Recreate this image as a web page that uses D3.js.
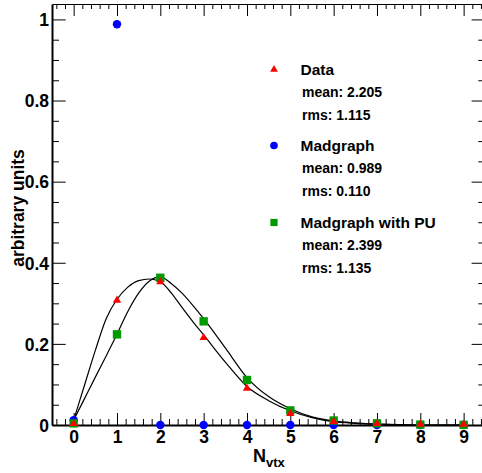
<!DOCTYPE html>
<html>
<head>
<meta charset="utf-8">
<script src="https://cdn.jsdelivr.net/npm/d3@7"></script>
<style>
  html, body { margin: 0; padding: 0; background: #fff; }
  svg { display: block; }
  text { font-family: "Liberation Sans", Arial, sans-serif; font-weight: bold; }
</style>
</head>
<body>
<svg id="chart" width="482" height="473"></svg>
<script>
// ---- data ----
const nvtx = [0, 1, 2, 3, 4, 5, 6, 7, 8, 9];
const dataValues      = [0.002, 0.306, 0.352, 0.214, 0.089, 0.027, 0.007, 0.002, 0.0005, 0.0002];
const madgraphValues  = [0.012, 0.988, 0, 0, 0, 0, 0, 0, 0, 0];
const madgraphPUValues= [0.004, 0.2235, 0.363, 0.2555, 0.111, 0.036, 0.011, 0.004, 0.001, 0.0005];

// fitted curves
const fitX       = [0, 0.25, 0.5, 0.75, 1, 1.25, 1.5, 1.75, 2, 2.25, 2.5, 2.75, 3, 3.5, 4, 4.5, 5, 5.5, 6, 6.5, 7, 7.5, 8, 9];
const fitData    = [0.012, 0.098, 0.184, 0.262, 0.31, 0.34, 0.356, 0.36, 0.353, 0.326, 0.29, 0.255, 0.222, 0.155, 0.095, 0.060, 0.035, 0.018, 0.008, 0.004, 0.002, 0.001, 0, 0];
const fitPU      = [0.012, 0.065, 0.118, 0.17, 0.224, 0.28, 0.325, 0.355, 0.365, 0.349, 0.325, 0.295, 0.262, 0.19, 0.117, 0.07, 0.04, 0.02, 0.01, 0.005, 0.002, 0.001, 0, 0];

const xTickValues = [0, 1, 2, 3, 4, 5, 6, 7, 8, 9];
const yTickValues = [0, 0.2, 0.4, 0.6, 0.8, 1];

const legendNames = ["Data", "Madgraph", "Madgraph with PU"];
const legendMeans = ["mean: 2.205", "mean: 0.989", "mean: 2.399"];
const legendRms   = ["rms: 1.115", "rms: 0.110", "rms: 1.135"];

// ---- drawing ----
const svg = d3.select("#chart");
svg.append("rect").attr("width", 482).attr("height", 473).attr("fill", "#fff");

const x = d3.scaleLinear().domain([-0.5, 9.5]).range([52, 485.3]);
const y = d3.scaleLinear().domain([0, 1.038]).range([425, 4]);

const colors = { data: "#ff0000", mg: "#0000ff", pu: "#009900" };

// minor ticks
const xMinor = d3.range(-0.4, 9.5, 0.2).map(v => +v.toFixed(1)).filter(v => Math.abs(v - Math.round(v)) > 1e-6);
const yMinor = d3.range(0.05, 1.04, 0.05).map(v => +v.toFixed(2)).filter(v => Math.abs(v / 0.2 - Math.round(v / 0.2)) > 1e-6);

function styleAxis(g, width) {
  g.select(".domain").attr("stroke", "#000").attr("stroke-width", width);
  g.selectAll(".tick line").attr("stroke", "#000").attr("stroke-width", 1);
}

// bottom minor
svg.append("g").attr("transform", "translate(0,425)")
  .call(d3.axisBottom(x).tickValues(xMinor).tickSize(-6).tickSizeOuter(0).tickFormat(""))
  .call(g => g.select(".domain").remove())
  .call(g => g.selectAll(".tick line").attr("stroke", "#000"));
// bottom major
const gxb = svg.append("g").attr("transform", "translate(0,425)")
  .call(d3.axisBottom(x).tickValues(xTickValues).tickSize(-12).tickSizeOuter(0).tickPadding(6).tickFormat(d3.format("d")));
styleAxis(gxb, 2);
gxb.selectAll(".tick text").attr("fill", "#000").style("font-size", "17.5px").style("font-family", "'Liberation Sans', Arial, sans-serif").style("font-weight", "bold");

// top
svg.append("g").attr("transform", "translate(0,4)")
  .call(d3.axisTop(x).tickValues(xMinor).tickSize(-5).tickSizeOuter(0).tickFormat(""))
  .call(g => g.select(".domain").remove())
  .call(g => g.selectAll(".tick line").attr("stroke", "#000"));
const gxt = svg.append("g").attr("transform", "translate(0,4)")
  .call(d3.axisTop(x).tickValues(xTickValues).tickSize(-12).tickSizeOuter(0).tickFormat(""));
styleAxis(gxt, 1.2);

// left
svg.append("g").attr("transform", "translate(52,0)")
  .call(d3.axisLeft(y).tickValues(yMinor).tickSize(-7).tickSizeOuter(0).tickFormat(""))
  .call(g => g.select(".domain").remove())
  .call(g => g.selectAll(".tick line").attr("stroke", "#000"));
const gyl = svg.append("g").attr("transform", "translate(52,0)")
  .call(d3.axisLeft(y).tickValues(yTickValues).tickSize(-13.7).tickSizeOuter(0).tickPadding(3).tickFormat(d3.format(".1~f")));
styleAxis(gyl, 2);
gyl.selectAll(".tick text").attr("fill", "#000").attr("dy", "0.36em").style("font-size", "17.5px").style("font-family", "'Liberation Sans', Arial, sans-serif").style("font-weight", "bold");

// right (mostly off-canvas)
svg.append("g").attr("transform", "translate(485.3,0)")
  .call(d3.axisRight(y).tickValues(yMinor).tickSize(-7).tickSizeOuter(0).tickFormat(""))
  .call(g => g.select(".domain").remove())
  .call(g => g.selectAll(".tick line").attr("stroke", "#000"));
const gyr = svg.append("g").attr("transform", "translate(485.3,0)")
  .call(d3.axisRight(y).tickValues(yTickValues).tickSize(-13.7).tickSizeOuter(0).tickFormat(""));
styleAxis(gyr, 1.2);

// fitted curves
const line = d3.line().curve(d3.curveMonotoneX);
[fitData, fitPU].forEach(vals => {
  svg.append("path")
    .attr("d", line(fitX.map((xv, i) => [x(xv), y(vals[i])])))
    .attr("fill", "none").attr("stroke", "#000").attr("stroke-width", 1.2);
});

// markers
const symCircle = d3.symbol().type(d3.symbolCircle).size(56);
const symSquare = d3.symbol().type(d3.symbolSquare).size(70);
const symTri = d3.symbol().type(d3.symbolTriangle).size(30);

svg.append("g").selectAll("path").data(nvtx).join("path")
  .attr("d", symCircle()).attr("fill", colors.mg)
  .attr("transform", (d, i) => `translate(${x(d)},${y(madgraphValues[i])})`);
svg.append("g").selectAll("path").data(nvtx).join("path")
  .attr("d", symSquare()).attr("fill", colors.pu)
  .attr("transform", (d, i) => `translate(${x(d)},${y(madgraphPUValues[i])})`);
svg.append("g").selectAll("path").data(nvtx).join("path")
  .attr("d", symTri()).attr("fill", colors.data)
  .attr("transform", (d, i) => `translate(${x(d)},${y(dataValues[i]) - 0.5})`);

// axis titles
svg.append("text")
  .attr("transform", "translate(24,208) rotate(-90)")
  .attr("text-anchor", "middle")
  .style("font-size", "17.5px")
  .attr("fill", "#000")
  .text("arbitrary units");

const xt = svg.append("text").attr("x", 253).attr("y", 461.5).attr("fill", "#000");
xt.append("tspan").style("font-size", "18px").text("N");
xt.append("tspan").style("font-size", "13px").attr("dy", 5).text("vtx");

// legend
const legSymbols = [
  d3.symbol().type(d3.symbolTriangle).size(26)(),
  d3.symbol().type(d3.symbolCircle).size(46)(),
  d3.symbol().type(d3.symbolSquare).size(52)()
];
const legColors = [colors.data, colors.mg, colors.pu];
const legTop = [74.5, 150.5, 227.5];
const leg = svg.append("g");
legendNames.forEach((name, i) => {
  const by = legTop[i];
  leg.append("path").attr("d", legSymbols[i]).attr("fill", legColors[i])
    .attr("transform", `translate(274,${by - 5})`);
  leg.append("text").attr("x", 300.5).attr("y", by).style("font-size", "15.5px").attr("fill", "#000").text(name);
  leg.append("text").attr("x", 302).attr("y", by + 22).style("font-size", "14px").attr("fill", "#000").text(legendMeans[i]);
  leg.append("text").attr("x", 302).attr("y", by + 45).style("font-size", "14px").attr("fill", "#000").text(legendRms[i]);
});
</script>
</body>
</html>
